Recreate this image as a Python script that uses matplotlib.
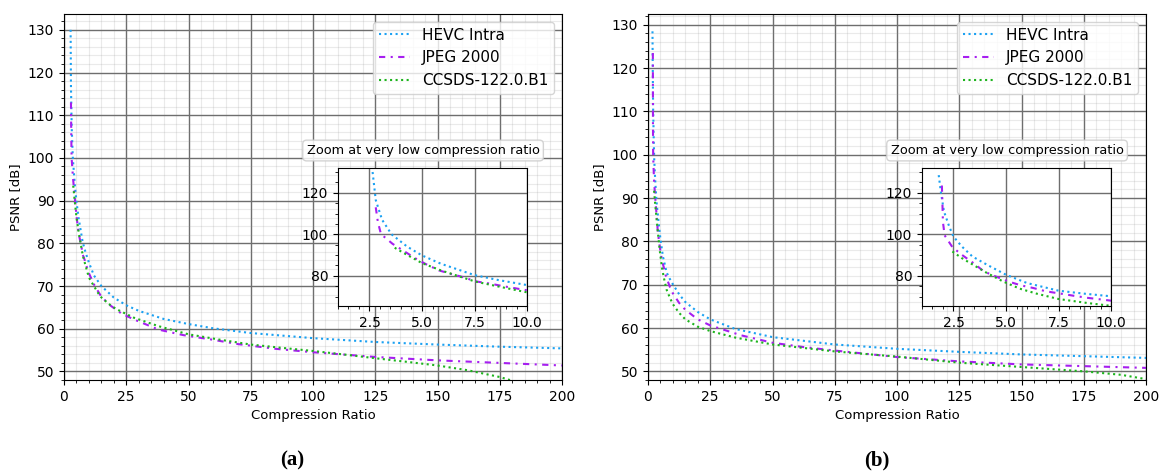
import matplotlib
matplotlib.use("Agg")
import matplotlib.pyplot as plt
from matplotlib.ticker import MultipleLocator, AutoMinorLocator, FixedLocator

# ---- data: PSNR [dB] versus compression ratio ----
series_names = ["HEVC Intra", "JPEG 2000", "CCSDS-122.0.B1"]

# panel (a)
hevc_a_x = [2.65, 2.8, 3.1, 3.55, 4.3, 5.0, 5.9, 7.5, 8.6, 10, 12, 15, 20, 25, 30, 40,
            50, 60, 75, 100, 125, 150, 175, 200]
hevc_a_y = [130, 116.5, 107, 100, 94, 89.8, 85.8, 80.3, 78, 75.5, 72.5, 70, 67.3, 65.5,
            64.2, 62.3, 61.1, 60.1, 59.0, 57.8, 56.9, 56.3, 55.8, 55.4]
jpeg_a_x = [2.8, 2.9, 3.05, 3.2, 3.6, 4.05, 4.65, 5.15, 5.8, 6.35, 7.0, 7.55, 8.25, 8.9,
            10, 12.2, 15, 18.5, 23, 28, 38, 48, 59, 70, 85, 100, 125, 150, 175, 200]
jpeg_a_y = [113, 106, 100, 98.8, 95.4, 92.5, 88.6, 85.8, 82.6, 81, 79.2, 77.3, 76.2, 74.9,
            73, 70.2, 67.5, 65.5, 63.6, 62.2, 59.8, 58.5, 57.5, 56.4, 55.3, 54.5, 53.4,
            52.6, 52.0, 51.4]
ccsds_a_x = [3.7, 4.3, 5, 5.9, 7.5, 8.6, 10, 12, 14.5, 18, 21, 28, 38, 50, 62, 75, 88,
             100, 112, 125, 137, 150, 162, 175, 182]
ccsds_a_y = [93.5, 90, 86.1, 82.6, 77.3, 74.9, 72, 70, 67.6, 65.8, 64.6, 62.6, 60.6, 58.7,
             57.5, 56.3, 55.5, 54.8, 54.0, 53.1, 52.3, 51.4, 50.3, 48.7, 47.5]

# panel (b)
hevc_b_x = [1.8, 1.9, 2.05, 2.3, 2.5, 2.9, 3.4, 4.1, 5, 6, 7.5, 8.7, 10, 12.5, 15, 20, 25,
            35, 50, 75, 100, 125, 150, 175, 200]
hevc_b_y = [128.5, 120.5, 111, 103.7, 98.9, 94.1, 89.3, 85.3, 80.5, 76.5, 72.8, 71.4,
            70.1, 67.8, 66, 63.7, 62, 59.8, 57.9, 56.2, 55.2, 54.5, 53.9, 53.5, 53.1]
jpeg_b_x = [1.95, 1.97, 2.0, 2.08, 2.45, 2.9, 3.45, 3.95, 4.5, 5.1, 5.7, 6.3, 6.9, 7.6,
            8.2, 8.85, 10, 12.5, 15, 20, 25, 37.5, 50, 62.5, 75, 100, 125, 150, 175, 200]
jpeg_b_y = [123.5, 117, 106, 99.5, 93.8, 90.1, 86.1, 82.1, 79.7, 77.3, 75.4, 74.1, 72.5,
            71.4, 70.4, 69.4, 68, 65.8, 64.2, 62, 60.6, 58.3, 56.6, 55.6, 54.8, 53.3,
            52.3, 51.6, 51.2, 50.8]
ccsds_b_x = [2.45, 2.9, 3.3, 4.05, 4.85, 5.65, 6.45, 7.5, 8.85, 10, 12.5, 15, 20, 25, 35,
             50, 75, 100, 125, 150, 175, 190, 200]
ccsds_b_y = [91.7, 88.5, 86.1, 81.6, 77.3, 73.8, 71.4, 68.8, 66.9, 65.5, 63.5, 62.0, 60.3,
             59.3, 57.8, 56.2, 54.6, 53.4, 52.0, 51.0, 50.0, 49.2, 48.2]

# tick values
main_xticks = [0, 25, 50, 75, 100, 125, 150, 175, 200]
main_yticks = [50, 60, 70, 80, 90, 100, 110, 120, 130]
inset_xticks = [2.5, 5.0, 7.5, 10.0]
inset_yticks = [80, 100, 120]

panels = [
    dict(label="a", ylim=(48.0, 133.7),
         curves=[(hevc_a_x, hevc_a_y), (jpeg_a_x, jpeg_a_y), (ccsds_a_x, ccsds_a_y)]),
    dict(label="b", ylim=(48.0, 132.5),
         curves=[(hevc_b_x, hevc_b_y), (jpeg_b_x, jpeg_b_y), (ccsds_b_x, ccsds_b_y)]),
]

colors = ["#1ba1f2", "#a61ff0", "#1db41d"]
styles = [dict(linestyle=":"),
          dict(linestyle=(0, (3.0, 2.6, 1.0, 2.6))),
          dict(linestyle=":")]

W, H = 1161, 475
fig = plt.figure(figsize=(W / 100, H / 100), dpi=100)
plt.rcParams["font.family"] = "DejaVu Sans"

axes_left = [64, 648]
ax_top, ax_bot, ax_w = 14, 380, 498
caption_x = [292, 877]


def style_grid(ax):
    ax.grid(True, which="major", color="#6e6e6e", linewidth=1.0)
    # translucent minor grid so that the major lines stay unbroken where they cross
    ax.grid(True, which="minor", color="#909090", alpha=0.18, linewidth=0.8)
    ax.set_axisbelow(True)


for i, p in enumerate(panels):
    ax = fig.add_axes([axes_left[i] / W, 1 - ax_bot / H, ax_w / W, (ax_bot - ax_top) / H])
    for (xs, ys), c, st, name in zip(p["curves"], colors, styles, series_names):
        ax.plot(xs, ys, color=c, linewidth=1.5, label=name, **st)
    ax.set_xlim(0, 200)
    ax.set_ylim(*p["ylim"])
    ax.xaxis.set_major_locator(FixedLocator(main_xticks))
    ax.yaxis.set_major_locator(FixedLocator(main_yticks))
    ax.xaxis.set_minor_locator(MultipleLocator(5))
    ax.yaxis.set_minor_locator(MultipleLocator(2))
    style_grid(ax)
    ax.tick_params(labelsize=10)
    ax.set_xlabel("Compression Ratio", fontsize=9.5, labelpad=4)
    ax.set_ylabel("PSNR [dB]", fontsize=9.5)
    ax.legend(loc="upper right", fontsize=11, framealpha=0.8, edgecolor="#cccccc")

    ins = ax.inset_axes([0.55, 0.202, 0.38, 0.377])
    for (xs, ys), c, st in zip(p["curves"], colors, styles):
        ins.plot(xs, ys, color=c, linewidth=1.5, **st)
    ins.set_xlim(1, 10)
    ins.set_ylim(65.4, 131.9)
    ins.xaxis.set_major_locator(FixedLocator(inset_xticks))
    ins.yaxis.set_major_locator(FixedLocator(inset_yticks))
    ins.xaxis.set_minor_locator(MultipleLocator(0.5))
    ins.yaxis.set_minor_locator(MultipleLocator(5))
    ins.grid(True, which="major", color="#6e6e6e", linewidth=1.0)
    ins.set_axisbelow(True)
    ins.set_facecolor("white")
    ins.tick_params(labelsize=10)
    ax.text(0.721, 0.627, "Zoom at very low compression ratio", transform=ax.transAxes,
            ha="center", va="center", fontsize=9.3,
            bbox=dict(boxstyle="round,pad=0.3", facecolor="white", edgecolor="#cccccc",
                      alpha=0.85))

    fig.text(caption_x[i] / W, 1 - 460 / H, "(" + p["label"] + ")", ha="center",
             va="center", fontsize=15, fontweight="bold", family="Liberation Serif")

fig.savefig("out.png", dpi=100)
